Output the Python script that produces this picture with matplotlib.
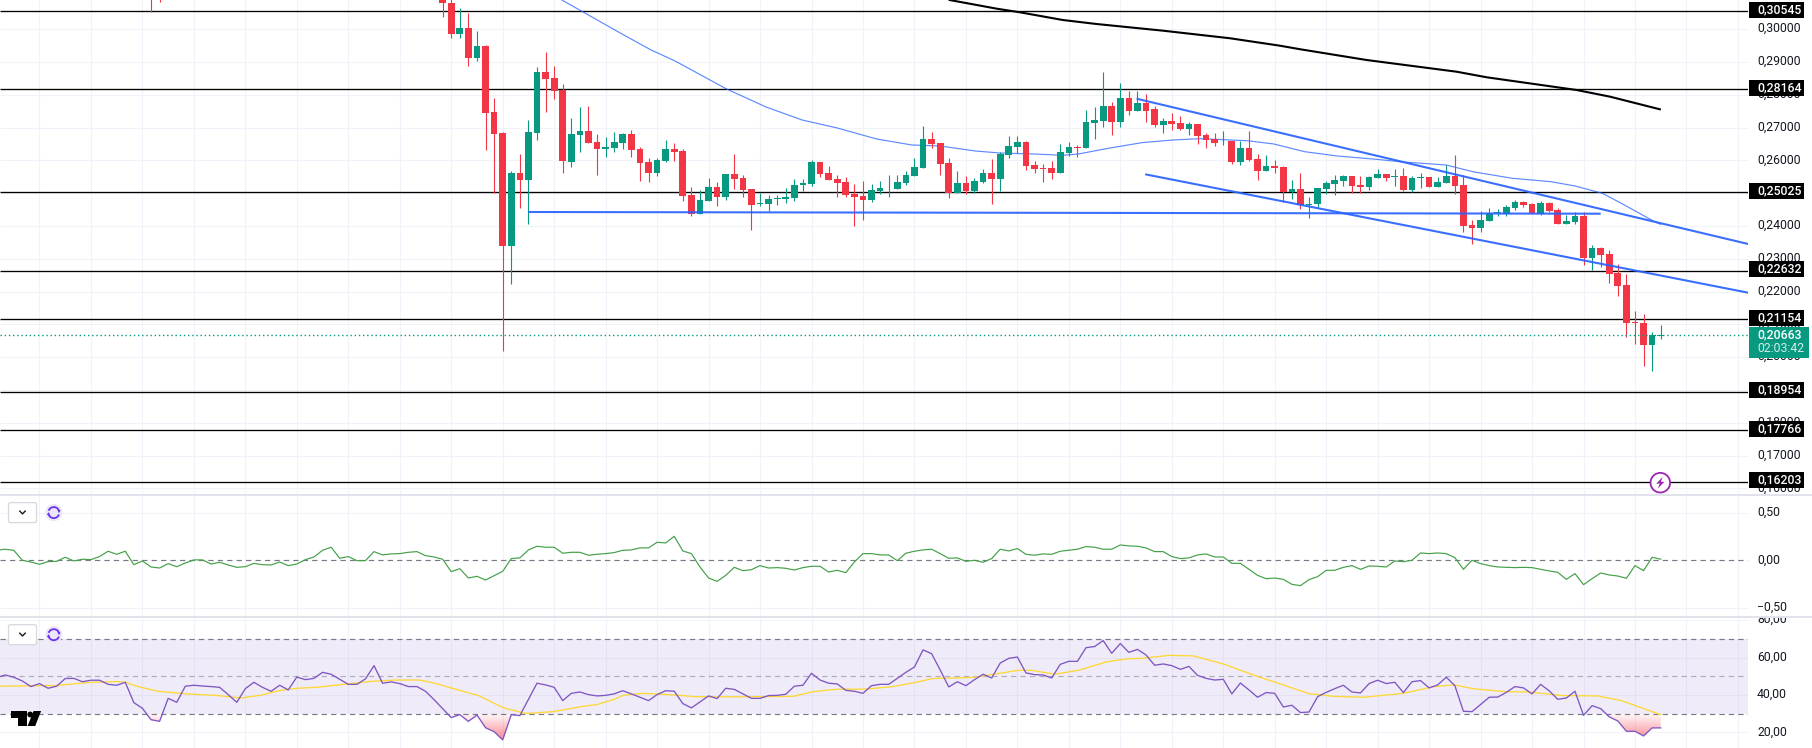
import numpy as np
import matplotlib
matplotlib.use("Agg")
import matplotlib.pyplot as plt
from matplotlib.patches import Rectangle, Circle, FancyBboxPatch, Polygon, Arc, PathPatch
from matplotlib.transforms import ScaledTranslation

plt.rcParams['font.family'] = ['Roboto', 'DejaVu Sans']

# ---------- candles (price x 1e-4) ----------
candle_index = [0, 1] + list(range(34, 177))
candle_colors = ("RR" "RRGRGRRRGRGGRRRGGRRGG" "GRRRGGRRRG" "GRGRRRGGGG" "GGGRRRRRRG" "GGGGGGRRRG"
                 "RGGRGGGRRR" "RGGRGGGRGR" "GRRGRRGRRR" "GRGRRGRRGR" "GGGGGRRGGR"
                 "GRGGRGGRRR" "GGGGGRRGRR" "GGRGRRRRRR" "GG")
body_top = [3200, 3200,
    3110, 3079, 3002, 3002, 2947, 2947, 2747, 2683, 2562, 2562, 2686, 2868, 2868, 2850, 2815, 2680, 2689, 2689, 2656, 2641, 2656,
    2680, 2680, 2635, 2595, 2602, 2635, 2635, 2629, 2495, 2480,
    2520, 2520, 2559, 2559, 2547, 2514, 2471, 2483, 2486, 2489,
    2526, 2532, 2595, 2595, 2562, 2544, 2535, 2498, 2492, 2511,
    2517, 2517, 2535, 2556, 2580, 2665, 2665, 2653, 2592, 2532,
    2532, 2538, 2562, 2562, 2620, 2644, 2656, 2656, 2586, 2577,
    2577, 2626, 2641, 2641, 2717, 2723, 2765, 2765, 2789, 2789,
    2774, 2774, 2756, 2720, 2720, 2714, 2711, 2711, 2677, 2665,
    2660, 2659, 2638, 2638, 2605, 2583, 2583, 2580, 2514, 2514,
    2468, 2517, 2532, 2541, 2553, 2553, 2526, 2550, 2559, 2559,
    2553, 2553, 2547, 2550, 2550, 2535, 2553, 2553, 2526, 2405,
    2420, 2441, 2443, 2459, 2474, 2474, 2468, 2471, 2471, 2450,
    2417, 2432, 2432, 2335, 2335, 2317, 2259, 2223, 2111, 2108,
    2071, 2071]
body_bottom = [3150, 3150,
    3078, 2984, 2984, 2912, 2912, 2745, 2681, 2342, 2342, 2542, 2542, 2684, 2848, 2812, 2600, 2597, 2678, 2654, 2636, 2636, 2639,
    2653, 2632, 2592, 2562, 2562, 2598, 2626, 2492, 2438, 2438,
    2477, 2489, 2489, 2544, 2511, 2465, 2468, 2468, 2483, 2483,
    2486, 2526, 2529, 2559, 2541, 2532, 2495, 2489, 2480, 2480,
    2508, 2516, 2514, 2532, 2553, 2577, 2650, 2589, 2502, 2502,
    2508, 2508, 2535, 2544, 2544, 2617, 2641, 2583, 2574, 2575,
    2562, 2562, 2623, 2639, 2638, 2714, 2720, 2717, 2717, 2750,
    2750, 2750, 2708, 2708, 2711, 2695, 2695, 2674, 2662, 2653,
    2658, 2595, 2595, 2602, 2568, 2568, 2577, 2505, 2505, 2465,
    2466, 2468, 2514, 2529, 2538, 2523, 2520, 2520, 2547, 2547,
    2550, 2511, 2511, 2547, 2520, 2520, 2532, 2523, 2402, 2395,
    2395, 2417, 2441, 2438, 2456, 2465, 2441, 2438, 2447, 2408,
    2408, 2414, 2305, 2305, 2314, 2256, 2220, 2108, 2109, 2041,
    2041, 2069]
wick_high = [3250, 3250,
    3120, 3090, 3061, 3046, 2992, 2950, 2791, 2686, 2568, 2620, 2722, 2883, 2929, 2888, 2832, 2729, 2762, 2765, 2680, 2671, 2686,
    2683, 2692, 2641, 2608, 2608, 2662, 2653, 2635, 2520, 2511,
    2547, 2535, 2559, 2620, 2556, 2514, 2502, 2495, 2495, 2517,
    2544, 2544, 2602, 2595, 2583, 2556, 2550, 2529, 2538, 2529,
    2538, 2556, 2556, 2568, 2608, 2705, 2686, 2653, 2608, 2568,
    2553, 2547, 2574, 2605, 2626, 2674, 2674, 2659, 2598, 2589,
    2598, 2650, 2656, 2647, 2753, 2762, 2868, 2777, 2835, 2811,
    2811, 2802, 2765, 2729, 2744, 2735, 2717, 2711, 2683, 2683,
    2689, 2659, 2659, 2689, 2620, 2617, 2602, 2583, 2541, 2562,
    2489, 2517, 2538, 2556, 2556, 2553, 2553, 2553, 2574, 2559,
    2574, 2577, 2553, 2562, 2550, 2550, 2586, 2617, 2556, 2420,
    2447, 2456, 2453, 2465, 2480, 2477, 2471, 2477, 2474, 2456,
    2435, 2444, 2444, 2344, 2338, 2329, 2286, 2256, 2144, 2135,
    2080, 2102]
wick_low = [3050, 3080,
    3034, 2972, 2972, 2887, 2902, 2632, 2503, 2024, 2227, 2456, 2409, 2663, 2748, 2786, 2563, 2581, 2627, 2654, 2557, 2612, 2627,
    2635, 2611, 2538, 2535, 2553, 2595, 2598, 2477, 2432, 2438,
    2477, 2462, 2480, 2514, 2489, 2389, 2462, 2447, 2465, 2471,
    2477, 2508, 2523, 2550, 2541, 2489, 2489, 2402, 2420, 2474,
    2498, 2489, 2514, 2526, 2553, 2577, 2638, 2556, 2486, 2502,
    2498, 2502, 2532, 2468, 2508, 2608, 2623, 2571, 2562, 2535,
    2544, 2562, 2614, 2611, 2638, 2665, 2702, 2677, 2702, 2738,
    2750, 2717, 2702, 2683, 2692, 2692, 2677, 2650, 2638, 2644,
    2647, 2589, 2586, 2598, 2541, 2568, 2562, 2474, 2483, 2453,
    2426, 2459, 2498, 2495, 2523, 2502, 2502, 2511, 2547, 2538,
    2523, 2508, 2505, 2517, 2520, 2520, 2532, 2498, 2383, 2347,
    2383, 2417, 2432, 2432, 2450, 2459, 2438, 2435, 2444, 2408,
    2408, 2408, 2283, 2268, 2277, 2229, 2189, 2065, 2044, 1977,
    1962, 2059]

# ---------- overlay lines: bar position, price ----------
ma_slow_x = [47.9, 54.7, 58.3, 61.1, 67.1, 71.7, 75.9, 80, 84.6, 88.7, 92, 96.1, 98.9, 103, 106.3, 108.1, 111.8, 115.5,
             119.1, 122.3, 127.8, 130.9, 134.5, 138.3, 142.8, 146, 151, 154.1, 158.7, 163.2, 166, 169.2, 171.4, 175.3, 176]
ma_slow_y = [.3089, .29884, .29366, .2903, .28177, .27628, .27232, .26988, .26652, .2647, .26439, .26287, .26226, .26195,
             .26155, .26195, .26378, .2654, .26622, .26662, .266, .265, .26265, .26134, .26034, .25951, .2586, .25655,
             .25454, .25351, .2522, .24997, .24692, .24131, .2405]
ma_long_x = [93.1, 98.6, 101.3, 106.3, 110.2, 118, 125.8, 131.6, 134, 141.7, 152.2, 155.7, 166.2, 170.1, 175.9]
ma_long_y = [.3089, .30625, .30515, .3028, .30159, .29954, .29723, .29497, .29387, .29061, .28704, .28534, .28146, .27942, .27558]

support_levels = [.30545, .28164, .25025, .22632, .21154, .18954, .17766, .16203]
last_price = .20663
countdown = "02:03:42"
trend_x = [[44, 169], [114.9, 186.2], [115.9, 186.2]]
trend_y = [[.24427, .24375], [.27881, .23451], [.25576, .21966]]
price_ticks = [.30, .29, .28, .27, .26, .25, .24, .23, .22, .21, .20, .19, .18, .17, .16]

# ---------- indicators, one value per bar from bar -18 ----------
osc = [.105, .116, .105, 0, -.018, -.042, -.014, -.011, .032, -.007, .011, .007, .039, .095, .063, .095, -.046, -.007,
       -.07, -.081, -.035, -.067, -.028, .004, .004, -.039, -.021, -.049, -.074, -.067, -.032, -.046, -.049, -.018, -.056,
       -.039, .007, .035, .105, .137, .021, .039, -.004, -.004, .091, .056, .067, .07, .084, .091, .049, .035, .011,
       -.119, -.088, -.186, -.168, -.207, -.161, -.116, .018, .025, .109, .147, .137, .137, .074, .084, .084, .053, .063, .07, .081,
       .105, .109, .13, .13, .189, .182, .252, .098, .07, -.07, -.186, -.221, -.158, -.074, -.109, -.098, -.056, -.081, -.077,
       -.084, -.102, -.077, -.063, -.063, -.123, -.105, -.13, -.018, .07, .07, .056, .056, -.004, .074, .095, .109, .116, .07,
       .021, .025, -.011, 0, -.021, .018, .116, .098, .123, .063, .053, .067, .063, .095, .105, .116, .144, .137, .116, .116,
       .161, .151, .147, .13, .091, .091, .039, .018, .025, .056, .067, .035,
       .035, -.032, -.032, -.095, -.158, -.193, -.186, -.2, -.252, -.266, -.203, -.172, -.105, -.105, -.074, -.056, -.095,
       -.06, -.063, -.07, -.007, -.014, 0, .077, .07, .077, .07, .028, -.095, 0, -.035, -.056, -.07, -.074, -.077, -.074,
       -.077, -.095, -.112, -.126, -.2, -.14, -.256, -.193, -.133, -.154, -.165, -.189, -.056, -.109, .032, .011]
rsi = [49.3, 50.7, 49.5, 47.5, 44.5, 46.1, 43.6, 44.7, 48.8, 48.9, 47.1, 47.9, 47.9, 45.7, 45.2, 46.8, 35.9, 32.9,
       26.8, 25.9, 38.2, 36.1, 44.7, 45.2, 44.8, 44.5, 44.1, 40.2, 36.1, 43.4, 46.8, 44.1, 42, 45.2, 42.7, 49.6, 48.2,
       48.9, 52.1, 51.1, 48.4, 45.7, 45.7, 48.6, 55.7, 46.3, 47, 46.1, 44.5, 44.5, 42, 37.5, 32.7, 27.9, 29.5, 25.9,
       29.3, 22.5, 20.4, 16, 29.5, 29, 37.7, 46.3, 45.4, 44.1, 37, 40.9, 41.6, 40.2, 39.5, 39.8, 40.6,
       42.3, 40.6, 38.8, 37, 40.2, 42.3, 42, 35.4, 33.1, 36.3, 39.5, 38.1, 43.6, 43, 40.6, 38.2, 38.2, 39.7, 39.8, 40.4,
       44.7, 45.2, 51.6, 48, 46.3, 45.9, 42.5, 42, 40.9, 45, 45.7, 45.7, 48.9, 52.1, 55, 64.1, 62.1, 53.4, 44.3, 47.1,
       45, 48.2, 51.1, 49.1, 57.1, 59.6, 60.3, 51.8, 50.9, 50.7, 49.1, 56.4, 58, 58, 65.3, 65.9, 69.1, 62.3, 67.5, 62.8,
       64.4, 61.4, 55.9, 56.6, 55.7, 53.7, 55.3, 50.5, 48.9, 48,
       48.4, 40.6, 46.4, 42.7, 38.8, 41.3, 40.9, 33.6, 34.5, 30.6, 30.9, 39.1, 41.4, 43.4, 45.2, 41.6, 41.1, 46.1, 47.9,
       46.1, 46.8, 41.3, 47.1, 47.7, 43.8, 45.4, 49.5, 45, 31.3, 31.1, 34.9, 38.8, 38.9, 41.4, 44.5, 43.8, 40.6, 45.7,
       42.2, 37.7, 38.4, 42, 29.1, 34.3, 32.7, 28.3, 26.1, 20.6, 20.6, 18.1, 22.4, 22.4]
rsi_ma_x = [-17.6, -13, -11.2, -7, -3.8, -3, -1.5, .8, 4.1, 7.8, 10.5, 12.8, 14.9, 17, 19.3, 22.5, 25.7, 28.5, 31.3, 33.1,
            35.4, 38.2, 41, 43.7, 46.9, 50.2, 52, 54, 55.1, 57.4, 61.1, 63.4, 66.6, 70.3, 74.9, 77.2, 80, 83.2, 86.5, 89.2,
            91.1, 93.8, 96.1, 98.9, 101.2, 102.6, 105.4, 108.1, 111.4, 113.7, 115.5, 118.7, 121.5, 125, 128.7, 131.8, 135,
            137.8, 141.4, 146, 149.6, 151.9, 154.1, 157.8, 160.5, 164.6, 168.7, 171.4, 176]
rsi_ma_y = [44.7, 45, 45, 46.8, 47.2, 46.8, 44.5, 42, 40.6, 39.7, 38.4, 39.9, 42.3, 43.6, 44.1, 45.7, 47.3, 48, 48, 46.3,
            43.2, 39.7, 33.3, 30.1, 31.1, 33.8, 34.9, 37.7, 39.9, 40.9, 40, 39.1, 39, 39.1, 39.3, 41.8, 43.1, 43.1, 44.5,
            46.8, 48.8, 49.1, 49.5, 51.6, 53.2, 53.2, 51.1, 53.2, 57.7, 59.3, 59.6, 61.2, 60.9, 56.6, 50.4, 45.7, 40.7,
            39.3, 38.8, 40.9, 44.5, 45.4, 43.4, 41.8, 41.6, 39.7, 39.5, 37, 29.5]
osc_ticks = [.5, 0, -.5]
rsi_ticks = [80, 60, 40, 20]

# ---------- palette ----------
RED, GREEN, BLUE = "#f23645", "#089981", "#2962ff"
GRID, TXT = "#f0f3fa", "#131722"
W, H = 1812, 748
PANE_R = 1748
BAR0_PX, BAR_PX = 151.0, 8.578
xlim = (-BAR0_PX / BAR_PX, (PANE_R - BAR0_PX) / BAR_PX)
grid_x = np.arange(-13, 186, 6)
FS = 8.8

def comma(v, d):
    return f"{v:.{d}f}".replace(".", ",").replace("-", "\u2212")

fig = plt.figure(figsize=(W / 100, H / 100), dpi=100, facecolor="white")
raise_labels = ScaledTranslation(0, 2.0 / 100, fig.dpi_scale_trans)

def pane(top, bottom, zorder):
    ax = fig.add_axes([0, 1 - bottom / H, PANE_R / W, (bottom - top) / H], zorder=zorder)
    ax.set_xlim(*xlim)
    ax.set_xticks([])
    for s in ax.spines.values():
        s.set_visible(False)
    ax.vlines(grid_x, 0, 1, transform=ax.get_xaxis_transform(), color=GRID, lw=0.8, zorder=0)
    ax.yaxis.tick_right()
    ax.tick_params(axis="y", length=0, pad=6.5, labelsize=FS, labelcolor=TXT)
    return ax

def lift(ax):
    for t in ax.yaxis.get_major_ticks():
        t.label2.set_transform(t.label2.get_transform() + raise_labels)

# ---------- main pane ----------
ax = pane(0, 495, 1)
ax.set_ylim(0.15799, 0.30890)
ax.set_yticks(price_ticks)
ax.set_yticklabels([comma(v, 5) for v in price_ticks])
lift(ax)
ax.hlines(price_ticks, 0, 1, transform=ax.get_yaxis_transform(), color=GRID, lw=0.8, zorder=0)
ax.hlines(support_levels, 0, 1, transform=ax.get_yaxis_transform(), color="black", lw=0.95, zorder=1)

def calib(a):
    return 0.27 + (np.asarray(a, float) * 1e-4 - 0.27) * 3300 / 3280

ci = np.array(candle_index)
top, bot, hi, lo = calib(body_top), calib(body_bottom), calib(wick_high), calib(wick_low)
cols = np.array([RED if c == "R" else GREEN for c in candle_colors])
ax.plot(ma_slow_x, ma_slow_y, color=BLUE, lw=0.85, alpha=0.75, zorder=1.5)
ax.vlines(ci, lo, hi, colors=cols, lw=0.8, zorder=2)
ax.bar(ci, np.maximum(top - bot, 0.00005), bottom=bot, width=0.78, color=cols, linewidth=0, zorder=2.1)
for tx, ty in zip(trend_x, trend_y):
    ax.plot(tx, ty, color=BLUE, lw=1.5, alpha=0.92, zorder=3, solid_capstyle="butt")
ax.plot(ma_long_x, ma_long_y, color="black", lw=1.5, zorder=3)
ax.axhline(last_price, color=GREEN, lw=1.0, ls=(0, (1, 2)), zorder=2.5)

# price-scale badges
ytr = ax.get_yaxis_transform()
px_y = 1 / 3280
x0, bw = 1 + 1 / PANE_R, 55 / PANE_R
for lev in support_levels:
    ax.add_patch(Rectangle((x0, lev - 6.5 * px_y), bw, 16 * px_y, transform=ytr, color="black",
                           lw=0, clip_on=False, zorder=5))
    ax.text(1 + 9 / PANE_R, lev + 1.7 * px_y, comma(lev, 5), transform=ytr, color="white", fontsize=FS,
            fontweight="medium", va="center", ha="left", zorder=6)
ax.add_patch(Rectangle((x0, last_price - 22.3 * px_y), 60 / PANE_R, 30.6 * px_y, transform=ytr, color=GREEN,
                       lw=0, clip_on=False, zorder=5))
ax.text(1 + 9 / PANE_R, last_price + 0.8 * px_y, comma(last_price, 5), transform=ytr, color="white", fontsize=FS,
        fontweight="medium", va="center", zorder=6)
ax.text(1 + 9 / PANE_R, last_price - 12.8 * px_y, countdown, transform=ytr, color="#cfeee6", fontsize=FS,
        va="center", zorder=6)

# ---------- oscillator pane ----------
ax2 = pane(495, 617, 1)
ax2.set_ylim(-0.595, 0.685)
ax2.set_yticks(osc_ticks)
ax2.set_yticklabels([comma(v, 2) for v in osc_ticks])
lift(ax2)
ax2.hlines([.5, -.5], 0, 1, transform=ax2.get_yaxis_transform(), color=GRID, lw=0.8, zorder=0)
ax2.axhline(0, color="#787b86", lw=0.85, ls=(0, (4.5, 3.5)), zorder=1)
bars = np.arange(-18, 177)
ax2.plot(bars, osc, color="#43a047", lw=0.85, zorder=3)

# ---------- RSI pane ----------
ax3 = pane(617, 748, 1)
ax3.set_ylim(11.66, 81.7)
ax3.set_yticks(rsi_ticks)
ax3.set_yticklabels([comma(v, 2) for v in rsi_ticks])
lift(ax3)
ax3.hlines(rsi_ticks, 0, 1, transform=ax3.get_yaxis_transform(), color=GRID, lw=0.8, zorder=0)
ax3.axhspan(30, 70, color="#7e57c2", alpha=0.115, lw=0, zorder=0.5)
ax3.axhline(70, color="#787b86", lw=0.85, ls=(0, (4.5, 3.5)), zorder=1)
ax3.axhline(30, color="#787b86", lw=0.85, ls=(0, (4.5, 3.5)), zorder=1)
ax3.axhline(50, color="#787b86", lw=0.85, alpha=0.55, ls=(0, (4.5, 3.5)), zorder=1)

fine = np.arange(-18, 176.01, 0.05)
rsi_fine = np.interp(fine, bars, rsi)
poly = ax3.fill_between(fine, rsi_fine, 30, where=rsi_fine < 30, color="none", lw=0)
grad = np.zeros((64, 2, 4))
grad[..., :3] = matplotlib.colors.to_rgb(RED)
grad[..., 3] = np.linspace(0.02, 0.75, 64)[:, None]
for path in poly.get_paths():
    im = ax3.imshow(grad, extent=(xlim[0], xlim[1], 11.66, 30), origin="upper", aspect="auto", zorder=1.5,
                    interpolation="bilinear")
    im.set_clip_path(PathPatch(path, transform=ax3.transData))
ax3.set_xlim(*xlim)
ax3.set_ylim(11.66, 81.7)
ax3.plot(rsi_ma_x, rsi_ma_y, color="#fdd835", lw=0.95, zorder=3)
ax3.plot(bars, rsi, color="#7e57c2", lw=0.95, zorder=4)

# ---------- interface furniture in pixel coordinates ----------
ui = fig.add_axes([0, 0, 1, 1], zorder=10)
ui.set_xlim(0, W)
ui.set_ylim(H, 0)
ui.axis("off")
ui.patch.set_alpha(0)
ui.add_patch(Rectangle((PANE_R, 612.5), W - PANE_R, 4.5, color="white", lw=0))
ui.plot([0, W], [495.3, 495.3], color="#e0e3eb", lw=1.4)
ui.plot([0, W], [617.3, 617.3], color="#e0e3eb", lw=1.4)
for cy in (512.6, 634.7):
    ui.add_patch(FancyBboxPatch((8.5, cy - 10), 28, 20, boxstyle="round,pad=0,rounding_size=2",
                                fc="white", ec="#d6d8df", lw=0.9))
    ui.plot([19.8, 22.5, 25.2], [cy - 1.5, cy + 1.3, cy - 1.5], color="#131722", lw=1.0)
    ui.add_patch(Circle((53.8, cy), 8.6, fc="#ece6fb", ec="none"))
    ui.add_patch(Arc((53.8, cy), 11, 11, theta1=200, theta2=350, color="#6a35e8", lw=1.3))
    ui.add_patch(Arc((53.8, cy), 11, 11, theta1=20, theta2=170, color="#6a35e8", lw=1.3))
    ui.add_patch(Polygon([[57.2, cy - 3.4], [60.6, cy - 2.2], [58.9, cy + 0.6]], color="#6a35e8", lw=0))
    ui.add_patch(Polygon([[50.4, cy + 3.4], [47.0, cy + 2.2], [48.7, cy - 0.6]], color="#6a35e8", lw=0))

# TradingView mark
ui.add_patch(Polygon([[11.1, 711], [26.9, 711], [26.9, 726], [17.8, 726], [17.8, 718], [11.1, 718]], color="black", lw=0))
ui.add_patch(Circle((30.2, 714.5), 2.9, color="black", lw=0))
ui.add_patch(Polygon([[33.6, 711], [41.1, 711], [35.2, 726], [27.6, 726]], color="black", lw=0))

# lightning badge
ui.add_patch(Circle((1660.3, 482.7), 9.8, fc="white", ec="#9c27b0", lw=1.3))
ui.add_patch(Polygon([[1662.8, 476.8], [1656.2, 483.6], [1659.8, 483.6], [1657.8, 488.6],
                      [1664.4, 481.8], [1660.8, 481.8]], color="#9c27b0", lw=0))

fig.savefig("out.png", dpi=100)
